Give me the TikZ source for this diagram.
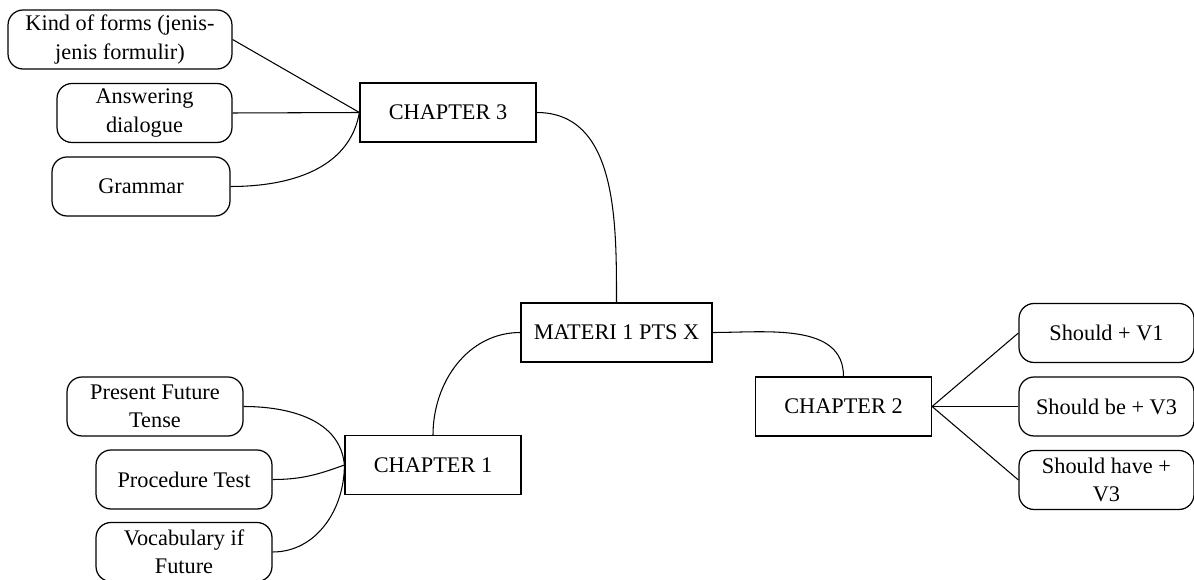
\documentclass[tikz,border=0pt]{standalone}
\usepackage{fontspec}
\setmainfont{Liberation Serif}
\usetikzlibrary{positioning}

\begin{document}
\begin{tikzpicture}[x=0.02cm,y=-0.02cm,
        chap/.style={draw,line width=0.7pt,minimum width=3.52cm,minimum height=1.18cm,
                     inner sep=1pt,align=center,font=\fontsize{12.7}{16}\selectfont},
        sub/.style={chap,rounded corners=0.3cm,minimum width=3.5cm}]
        \useasboundingbox (0,0) rectangle (1194,580);
        \node[chap,minimum width=3.82cm] (m) at (616.5,332.5) {MATERI 1 PTS X};
        \node[chap] (c_1) at (433,465)   {CHAPTER 1};
        \node[chap] (c_2) at (843.5,406.5) {CHAPTER 2};
        \node[chap] (c_3) at (448,112.5) {CHAPTER 3};
        \node[sub,minimum width=4.48cm] (k) at (120,39.5) {Kind of forms (jenis-\\jenis formulir)};
        \node[sub] (a) at (144.5,113)  {Answering\\dialogue};
        \node[sub,minimum width=3.56cm] (g) at (141,186.5)  {Grammar};
        \node[sub,minimum width=3.52cm] (p_1) at (155,406.5) {Present Future\\Tense};
        \node[sub,minimum width=3.52cm] (p_2) at (184,479.5) {Procedure Test};
        \node[sub,minimum width=3.52cm] (p_3) at (184,552)   {Vocabulary if\\Future};
        \node[sub] (s_1) at (1106.5,333)   {Should + V1};
        \node[sub] (s_2) at (1106.5,406.5) {Should be + V3};
        \node[sub] (s_3) at (1106.5,480)   {Should have +\\V3};
          \path[line width=0.6pt]
            (k.east) edge (c_3.west)
            (a.east) edge (c_3.west)
            (g.east) edge[out=0,in=260] (c_3.west)
            (c_3.east) edge[out=0,in=90] (m.north)
            (m.west) edge[out=180,in=90] (c_1.north)
            (m.east) edge[out=0,in=90] (c_2.north)
            (c_2.east) edge (s_1.west)
            (c_2.east) edge (s_2.west)
            (c_2.east) edge (s_3.west)
            (p_1.east) edge[out=0,in=95] (c_1.west)
            (p_2.east) edge[out=0,in=200] (c_1.west)
            (p_3.east) edge[out=0,in=270] (c_1.west);
    \end{tikzpicture}
\end{document}
